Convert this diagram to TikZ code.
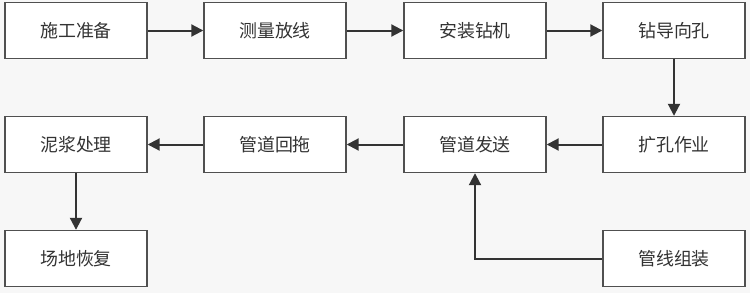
\documentclass[tikz,border=0pt]{standalone}
\usepackage{fontspec}
\newfontfamily\cjk{Noto Sans CJK SC}
\usetikzlibrary{arrows.meta}
\definecolor{bg}{HTML}{F7F7F7}
\definecolor{edge}{HTML}{505050}
\definecolor{arr}{HTML}{333333}
\definecolor{txt}{HTML}{333333}
\begin{document}
\begin{tikzpicture}[x=1bp,y=-1bp,
  stepbox/.style={draw=edge,line width=1.4bp,fill=white,minimum width=142bp,minimum height=56bp,inner sep=0pt,
    font=\cjk\fontsize{18}{20}\selectfont,text=txt},
  flow/.style={draw=arr,line width=2bp,-{Triangle[length=12bp,width=12bp]}}]
\fill[bg] (0,0) rectangle (750,293);
\useasboundingbox (0,0) rectangle (750,293);
\node[stepbox] (a) at (76,30.5) {施工准备};
\node[stepbox] (b) at (275,30.5) {测量放线};
\node[stepbox] (c) at (475,30.5) {安装钻机};
\node[stepbox] (d) at (674,30.5) {钻导向孔};
\node[stepbox] (e) at (674,144.5) {扩孔作业};
\node[stepbox] (f) at (475,144.5) {管道发送};
\node[stepbox] (g) at (275,144.5) {管道回拖};
\node[stepbox] (h) at (76,144.5) {泥浆处理};
\node[stepbox] (i) at (76,258.5) {场地恢复};
\node[stepbox] (j) at (674,258.5) {管线组装};
\draw[flow] (a) -- (b);
\draw[flow] (b) -- (c);
\draw[flow] (c) -- (d);
\draw[flow] (d) -- (e);
\draw[flow] (e) -- (f);
\draw[flow] (f) -- (g);
\draw[flow] (g) -- (h);
\draw[flow] (h) -- (i);
\draw[flow] (j.west) -| (f.south);
\end{tikzpicture}
\end{document}
